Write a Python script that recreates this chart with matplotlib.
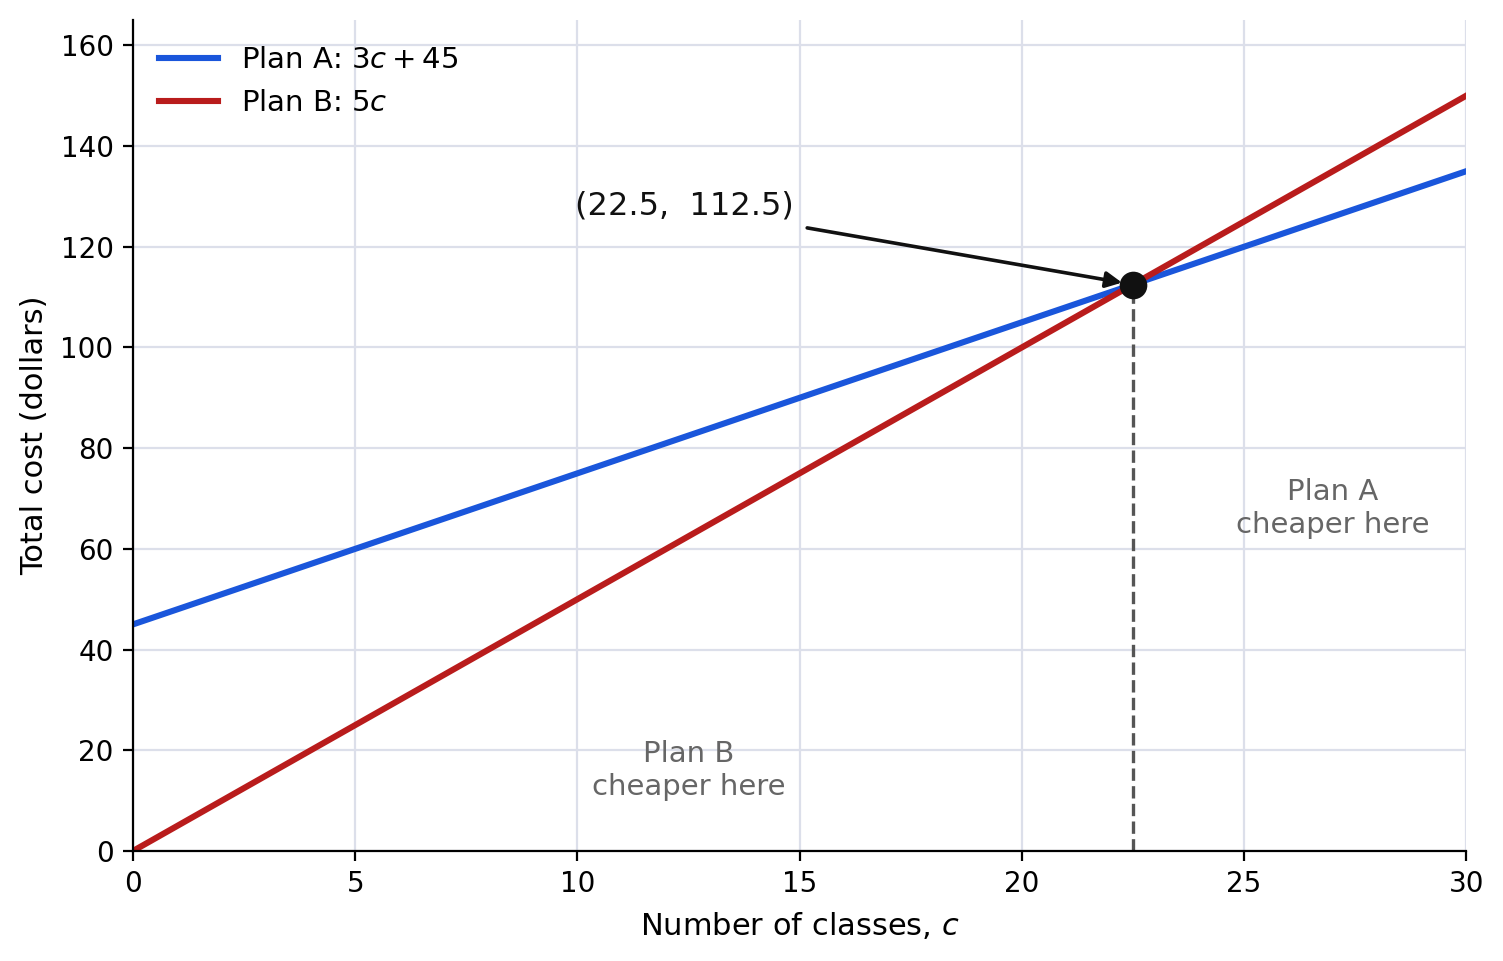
import numpy as np
import matplotlib
matplotlib.use("Agg")
from matplotlib import pyplot as plt

# data
classes = np.array([0, 30])
plan_a = 3 * classes + 45
plan_b = 5 * classes
cross_x = 22.5
cross_y = 112.5
x_ticks = [0, 5, 10, 15, 20, 25, 30]
y_ticks = [0, 20, 40, 60, 80, 100, 120, 140, 160]

fig = plt.figure(figsize=(7.515, 4.805), dpi=200)
ax = fig.add_axes([0.0885, 0.1145, 0.887, 0.8645])

ax.plot(classes, plan_a, color="#1a56db", lw=2.2, label=r"Plan A: $3c + 45$")
ax.plot(classes, plan_b, color="#b91c1c", lw=2.2, label=r"Plan B: $5c$")

ax.plot([cross_x, cross_x], [0, cross_y], ls="--", color="#555555", lw=1.2)
ax.scatter([cross_x], [cross_y], s=80, color="#111111", zorder=5)

ax.annotate(f"({cross_x},  {cross_y})", xy=(cross_x, cross_y), xytext=(12.4, 128),
            ha="center", va="center", fontsize=11.5, color="#111111",
            arrowprops=dict(arrowstyle="-|>", color="#111111", lw=1.3,
                            shrinkA=3, shrinkB=4, mutation_scale=12))

ax.text(12.5, 16, "Plan B\ncheaper here", ha="center", va="center",
        fontsize=10.5, color="#666666", linespacing=1.2)
ax.text(27.0, 68, "Plan A\ncheaper here", ha="center", va="center",
        fontsize=10.5, color="#666666", linespacing=1.2)

ax.set_xlim(0, 30)
ax.set_ylim(0, 165)
ax.set_xticks(x_ticks)
ax.set_yticks(y_ticks)
ax.tick_params(labelsize=10)
ax.set_xlabel("Number of classes, $c$", fontsize=11)
ax.set_ylabel("Total cost (dollars)", fontsize=11)
ax.grid(True, color="#dcdfea", lw=0.8)
ax.set_axisbelow(True)
for s in ["top", "right"]:
    ax.spines[s].set_visible(False)

ax.legend(loc="upper left", frameon=False, fontsize=10.5)

fig.savefig("out.png", dpi=200)
